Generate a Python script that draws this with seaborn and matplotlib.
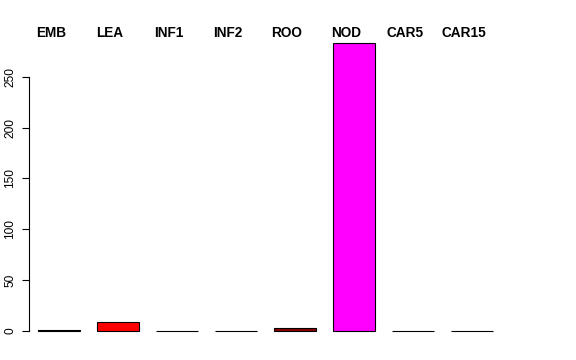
import matplotlib
matplotlib.use("Agg")
import matplotlib.pyplot as plt
import seaborn as sns
import pandas as pd

categories = ["EMB", "LEA", "INF1", "INF2", "ROO", "NOD", "CAR5", "CAR15"]
values = [1.0, 8.6, 0.2, 0.2, 2.5, 283.0, 0.3, 0.3]
colors = ["#000000", "#FF0000", "#2F4F2F", "#1C1C3C", "#8B0000", "#FF00FF", "#3A3A3A", "#3A3A3A"]
yticks = [0, 50, 100, 150, 200, 250]

sns.set_style("white")
plt.rcParams["font.family"] = ["Liberation Sans", "DejaVu Sans"]
plt.rcParams["text.color"] = "black"
plt.rcParams["ytick.color"] = "black"
plt.rcParams["ytick.labelcolor"] = "black"

df = pd.DataFrame({"tissue": categories, "value": values})

fig = plt.figure(figsize=(5.76, 3.6), dpi=100)
ax = fig.add_axes([29 / 576, 0.05, (503 - 29) / 576, 0.9128 - 0.05])

sns.barplot(data=df, x="tissue", y="value", hue="tissue", order=categories,
            palette=dict(zip(categories, colors)), width=0.71, legend=False,
            edgecolor="black", linewidth=0.8, saturation=1, ax=ax)

ax.set_xlim(-0.51, 7.525)
ax.set_ylim(-10.8, 294.6)

for s in ["top", "right", "bottom"]:
    ax.spines[s].set_visible(False)
ax.spines["left"].set_bounds(0, 250)
ax.spines["left"].set_linewidth(0.8)
ax.spines["left"].set_color("black")

ax.set_xticks([])
ax.set_yticks(yticks)
ax.set_yticklabels([str(t) for t in yticks], rotation=90, va="center", fontsize=8.6, color="black")
ax.tick_params(axis="y", direction="out", length=5, width=0.8, pad=4, colors="black", left=True)
ax.set_xlabel("")
ax.set_ylabel("")

for i, name in enumerate(categories):
    ax.text(i - 0.14, 293, name, ha="center", va="center", fontsize=9.8,
            fontweight="bold", color="black", clip_on=False)

fig.savefig("out.png", dpi=100)
